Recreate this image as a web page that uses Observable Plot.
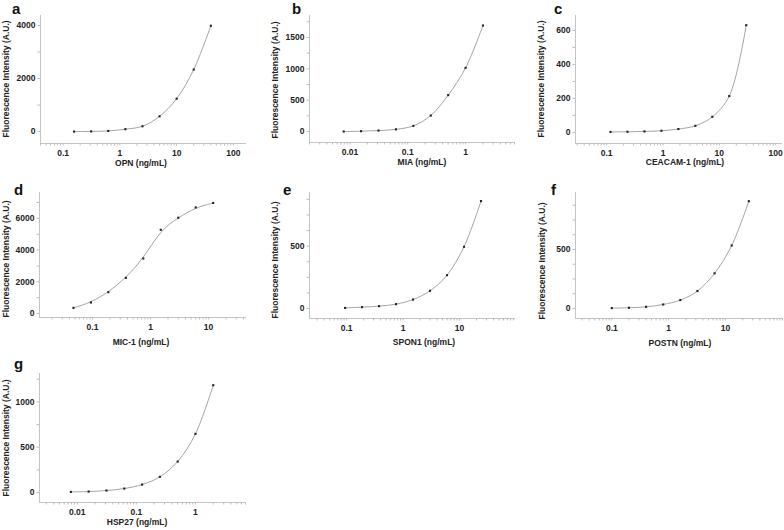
<!DOCTYPE html>
<html><head><meta charset="utf-8">
<script src="https://cdn.jsdelivr.net/npm/d3@7"></script>
<script src="https://cdn.jsdelivr.net/npm/@observablehq/plot@0.6"></script>
<style>
body{margin:0;background:#fff}
#root{position:relative;width:784px;height:530px;overflow:hidden;background:#fff;font-family:"Liberation Sans",Arial,sans-serif}
.panel{position:absolute}
#overlay{position:absolute;left:0;top:0;pointer-events:none}
</style></head><body><div id="root"></div>
<script>
// ---- data ----
const opnConc = [0.156, 0.3125, 0.625, 1.25, 2.5, 5, 10, 20, 40];
const opnSignal = [0, 5, 25, 90, 200, 575, 1240, 2340, 3990];
const miaConc = [0.0078, 0.0156, 0.03125, 0.0625, 0.125, 0.25, 0.5, 1, 2];
const miaSignal = [0, 5, 15, 35, 90, 255, 580, 1015, 1690];
const ceacamConc = [0.117, 0.234, 0.469, 0.9375, 1.875, 3.75, 7.5, 15, 30];
const ceacamSignal = [3, 4, 6, 10, 20, 39, 92, 214, 631];
const mic1Conc = [0.047, 0.094, 0.1875, 0.375, 0.75, 1.5, 3, 6, 12];
const mic1Signal = [358, 695, 1347, 2250, 3470, 5280, 6040, 6690, 6970];
const spon1Conc = [0.094, 0.1875, 0.375, 0.75, 1.5, 3, 6, 12, 24];
const spon1Signal = [5, 11, 19, 35, 72, 142, 267, 495, 861];
const postnConc = [0.1, 0.2, 0.4, 0.8, 1.6, 3.2, 6.4, 12.8, 25.6];
const postnSignal = [3, 6, 14, 34, 71, 148, 298, 534, 909];
const hsp27Conc = [0.0078, 0.0156, 0.03125, 0.0625, 0.125, 0.25, 0.5, 1, 2];
const hsp27Signal = [7, 11, 22, 44, 88, 173, 342, 647, 1184];

// tick labels
const xTicksA = [0.1, 1, 10, 100];
const xTicksB = [0.01, 0.1, 1];
const xTicksD = [0.1, 1, 10];
const yTicksA = [0, 2000, 4000];
const yTicksB = [0, 500, 1000, 1500];
const yTicksC = [0, 200, 400, 600];
const yTicksD = [0, 2000, 4000, 6000];
const yTicksE = [0, 500];
const yTicksG = [0, 500, 1000];

const letters = ["a", "b", "c", "d", "e", "f", "g"];
const xLabels = ["OPN (ng/mL)", "MIA (ng/mL)", "CEACAM-1 (ng/mL)", "MIC-1 (ng/mL)", "SPON1 (ng/mL)", "POSTN (ng/mL)", "HSP27 (ng/mL)"];
const yLabel = "Fluorescence Intensity (A.U.)";

// ---- layout ----
const panels = [
  {conc: opnConc, signal: opnSignal, xTicks: xTicksA, yTicks: yTicksA, yStep: 1000, curve: "catmull-rom",
   box: [0, 0, 260, 172], frame: [40, 246, 15, 143], xDomain: [0.04, 170], yDomain: [-450, 4377],
   letterPos: [12, 14], xlabPos: [141, 166], ylabPos: [8.5, 79]},
  {conc: miaConc, signal: miaSignal, xTicks: xTicksB, yTicks: yTicksB, yStep: 250, curve: "catmull-rom",
   box: [260, 0, 260, 172], frame: [309, 515, 15, 142], xDomain: [0.002, 7.3], yDomain: [-175, 1850],
   letterPos: [292, 14], xlabPos: [422, 165], ylabPos: [278, 80]},
  {conc: ceacamConc, signal: ceacamSignal, xTicks: xTicksA, yTicks: yTicksC, yStep: 100, curve: "catmull-rom",
   box: [520, 0, 264, 172], frame: [575, 782, 15, 143], xDomain: [0.028, 132], yDomain: [-65, 688],
   letterPos: [554, 14], xlabPos: [685, 165], ylabPos: [544, 79]},
  {conc: mic1Conc, signal: mic1Signal, xTicks: xTicksD, yTicks: yTicksD, yStep: 1000, curve: "basis",
   box: [0, 172, 260, 178], frame: [39, 246, 192, 317], xDomain: [0.0122, 45], yDomain: [-250, 7630],
   letterPos: [14, 195], xlabPos: [141, 345], ylabPos: [8.5, 259]},
  {conc: spon1Conc, signal: spon1Signal, xTicks: xTicksD, yTicks: yTicksE, yStep: 125, curve: "catmull-rom",
   box: [260, 172, 260, 178], frame: [309, 515, 192, 318], xDomain: [0.022, 98], yDomain: [-80, 930],
   letterPos: [283, 195], xlabPos: [424, 345], ylabPos: [278, 260]},
  {conc: postnConc, signal: postnSignal, xTicks: xTicksD, yTicks: yTicksE, yStep: 125, curve: "catmull-rom",
   box: [520, 172, 264, 178], frame: [575, 782, 192, 318], xDomain: [0.023, 100], yDomain: [-85, 983],
   letterPos: [551, 195], xlabPos: [680, 346], ylabPos: [545, 261]},
  {conc: hsp27Conc, signal: hsp27Signal, xTicks: xTicksB, yTicks: yTicksG, yStep: 250, curve: "catmull-rom",
   box: [0, 350, 260, 180], frame: [39, 246, 373, 502], xDomain: [0.0023, 7.3], yDomain: [-110, 1313],
   letterPos: [14, 369], xlabPos: [137, 525], ylabPos: [9, 438]}
];

const root = document.getElementById("root");
const axisColor = "#c4c4c4";

function minorLogTicks([lo, hi]) {
  const out = [];
  for (let e = Math.floor(Math.log10(lo)); e <= Math.ceil(Math.log10(hi)); e++) {
    for (let k = 1; k <= 9; k++) {
      const v = k * Math.pow(10, e);
      if (v >= lo && v <= hi) out.push(v);
    }
  }
  return out;
}

panels.forEach((p, i) => {
  const [bx, by, bw, bh] = p.box;
  const [fx0, fx1, fy0, fy1] = p.frame;
  const data = p.conc.map((c, j) => ({conc: c, signal: p.signal[j]}));
  const yMinor = d3.range(0, p.yDomain[1], p.yStep);
  const chart = Plot.plot({
    width: bw, height: bh,
    marginLeft: fx0 - bx, marginRight: bx + bw - fx1,
    marginTop: fy0 - by, marginBottom: by + bh - fy1,
    x: {type: "log", domain: p.xDomain},
    y: {domain: p.yDomain},
    style: {fontFamily: '"Liberation Sans", Arial, sans-serif', fontSize: "8.5px", fontWeight: "bold", color: "#222", background: "transparent"},
    marks: [
      Plot.ruleY([p.yDomain[0]], {stroke: axisColor, strokeWidth: 1}),
      Plot.ruleX([p.xDomain[0]], {stroke: axisColor, strokeWidth: 1}),
      Plot.axisX({ticks: minorLogTicks(p.xDomain), tickSize: 2.5, stroke: "#bdbdbd", tickFormat: () => "", label: null}),
      Plot.axisX({ticks: p.xTicks, tickSize: 0, tickPadding: 6, tickFormat: d => String(d), label: null, fill: "#222"}),
      Plot.axisY({ticks: yMinor, tickSize: 2.5, stroke: "#bdbdbd", tickFormat: () => "", label: null}),
      Plot.axisY({ticks: p.yTicks, tickSize: 0, tickPadding: 5, tickFormat: d => String(d), label: null, fill: "#222"}),
      Plot.line(data, {x: "conc", y: "signal", curve: p.curve, stroke: "#9a9a9a", strokeWidth: 0.9}),
      Plot.dot(data, {x: "conc", y: "signal", symbol: "square", r: 1.2, fill: "#222", stroke: "none"})
    ]
  });
  const wrap = document.createElement("div");
  wrap.className = "panel";
  wrap.style.left = bx + "px";
  wrap.style.top = by + "px";
  wrap.appendChild(chart);
  root.appendChild(wrap);
});

// ---- text overlay ----
const svg = d3.select(root).append("svg").attr("id", "overlay").attr("width", 784).attr("height", 530)
  .style("font-family", '"Liberation Sans", Arial, sans-serif').style("font-weight", "bold");
panels.forEach((p, i) => {
  svg.append("text").attr("x", p.letterPos[0]).attr("y", p.letterPos[1])
    .attr("font-size", 15).attr("fill", "#111").text(letters[i]);
  svg.append("text").attr("x", p.xlabPos[0]).attr("y", p.xlabPos[1])
    .attr("font-size", 8.5).attr("fill", "#222").attr("text-anchor", "middle").text(xLabels[i]);
  svg.append("text").attr("transform", `translate(${p.ylabPos[0]},${p.ylabPos[1]}) rotate(-90)`)
    .attr("font-size", 8.5).attr("fill", "#222").attr("text-anchor", "middle").text(yLabel);
});
</script></body></html>
